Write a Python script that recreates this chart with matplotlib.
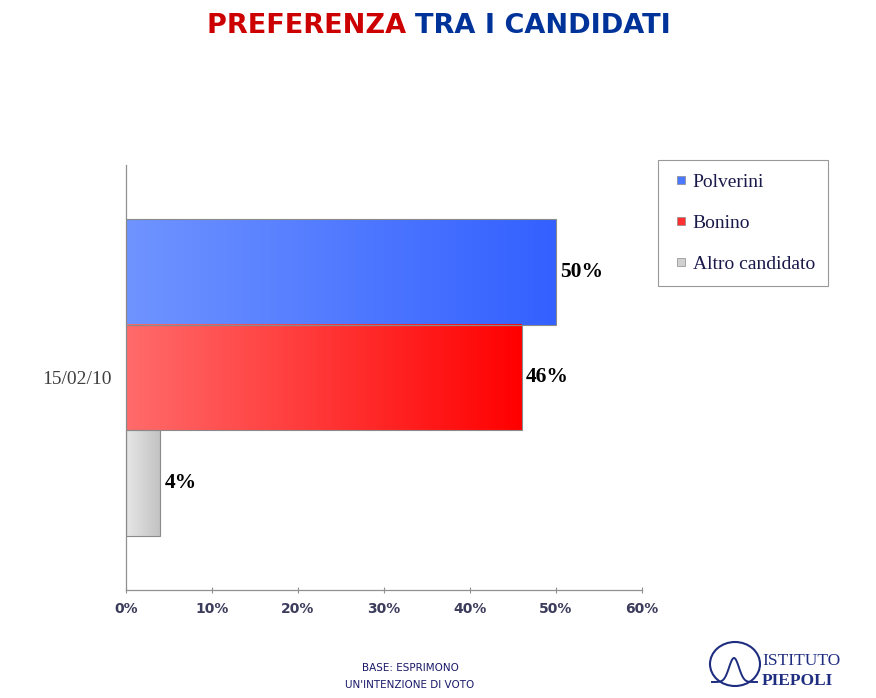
import numpy as np
import matplotlib
matplotlib.use("Agg")
import matplotlib.pyplot as plt
from matplotlib.patches import Ellipse
from matplotlib.lines import Line2D
from matplotlib.colors import LinearSegmentedColormap

# data
date_label = "15/02/10"
candidates = ["Polverini", "Bonino", "Altro candidato"]
values = [50, 46, 4]
grad_colors = [("#6f94ff", "#3360ff"), ("#ff6b6b", "#ff0000"), ("#e6e6e6", "#c2c2c2")]
legend_colors = ["#4a78ff", "#ff3030", "#d0d0d0"]
xticks = [0, 10, 20, 30, 40, 50, 60]

W, H = 876, 698
fig = plt.figure(figsize=(W / 100, H / 100), dpi=100)
fig.patch.set_facecolor("white")

ax = fig.add_axes([126 / W, 108 / H, 516 / W, 425 / H])

group = 0.746
bh = group / len(values)
offsets = [(1 - i) * bh for i in range(len(values))]
bars = ax.barh(offsets, values, height=bh, color="none",
               edgecolor="#8a8a8a", linewidth=0.8, zorder=3)

for patch, (c0, c1), v in zip(bars.patches, grad_colors, values):
    x0, y0 = patch.get_x(), patch.get_y()
    w, h = patch.get_width(), patch.get_height()
    cmap = LinearSegmentedColormap.from_list("g", [c0, c1])
    grad = np.linspace(0, 1, 256).reshape(1, -1)
    ax.imshow(grad, cmap=cmap, aspect="auto", extent=(x0, x0 + w, y0, y0 + h),
              zorder=2, interpolation="bilinear")
    ax.text(v + 0.5, y0 + h / 2, f"{v}%", ha="left", va="center",
            fontsize=15.5, fontweight="bold", family="Liberation Serif",
            color="black", zorder=4)

ax.set_xlim(0, 60)
ax.set_ylim(-0.5, 0.5)
ax.set_xticks(xticks)
ax.set_xticklabels([f"{t}%" for t in xticks], fontsize=10, fontweight="bold",
                   color="#3c3c5c", family="DejaVu Sans")
ax.set_yticks([0])
ax.set_yticklabels([date_label], fontsize=14, family="Liberation Serif", color="#404040")
ax.tick_params(axis="x", direction="inout", length=5, color="#909090", pad=6)
ax.tick_params(axis="y", length=0, pad=10)
for s in ["top", "right"]:
    ax.spines[s].set_visible(False)
for s in ["left", "bottom"]:
    ax.spines[s].set_color("#909090")
    ax.spines[s].set_linewidth(0.9)

# legend
handles = [Line2D([], [], linestyle="none", marker="s", markersize=6,
                  markerfacecolor=c, markeredgecolor="#8a8a8a", markeredgewidth=0.5)
           for c in legend_colors]
leg = fig.legend(handles, candidates, loc="upper left",
                 bbox_to_anchor=(658 / W, 1 - 160 / H), frameon=True,
                 prop={"family": "Liberation Serif", "size": 14},
                 handlelength=1.0, handletextpad=0.1,
                 labelspacing=1.2, borderpad=0.68, borderaxespad=0, fancybox=False)
leg.get_frame().set_edgecolor("#808080")
leg.get_frame().set_linewidth(0.8)
for t in leg.get_texts():
    t.set_color("#1a1a4a")

# title
t1 = fig.text(0.5, 1 - 26 / H, "PREFERENZA ", color="#cc0000", fontsize=19.5,
              fontweight="bold", ha="right", va="center")
t2 = fig.text(0.5, 1 - 26 / H, "TRA I CANDIDATI", color="#003399", fontsize=19.5,
              fontweight="bold", ha="left", va="center")
fig.canvas.draw()
r = fig.canvas.get_renderer()
w1 = t1.get_window_extent(renderer=r).width
w2 = t2.get_window_extent(renderer=r).width
split = 439 - (w1 + w2) / 2 + w1
t1.set_x(split / W)
t2.set_x(split / W)

# footer
fig.text(410 / W, 1 - 668 / H, "BASE: ESPRIMONO", ha="center", va="center",
         fontsize=7.5, color="#1a1a6a", family="DejaVu Sans")
fig.text(410 / W, 1 - 685 / H, "UN'INTENZIONE DI VOTO", ha="center", va="center",
         fontsize=7.5, color="#1a1a6a", family="DejaVu Sans")

# logo
lax = fig.add_axes([700 / W, 0, 176 / W, 60 / H])
lax.set_xlim(700, 876)
lax.set_ylim(698, 638)
lax.axis("off")
lax.add_patch(Ellipse((735, 664), 50, 44, fill=False, edgecolor="#1e2d80", linewidth=1.5))
xs = np.linspace(712, 757, 100)
lax.plot(xs, 682 - 24 * np.exp(-((xs - 734) / 7) ** 2), color="#1e2d80", linewidth=1.4)
lax.text(762, 661, "ISTITUTO", fontsize=12.5, family="Liberation Serif", color="#1e2d80",
         va="center", ha="left")
lax.text(762, 681, "PIEPOLI", fontsize=12.5, family="Liberation Serif", color="#1e2d80",
         va="center", ha="left", fontweight="bold")

fig.savefig("out.png", dpi=100)
